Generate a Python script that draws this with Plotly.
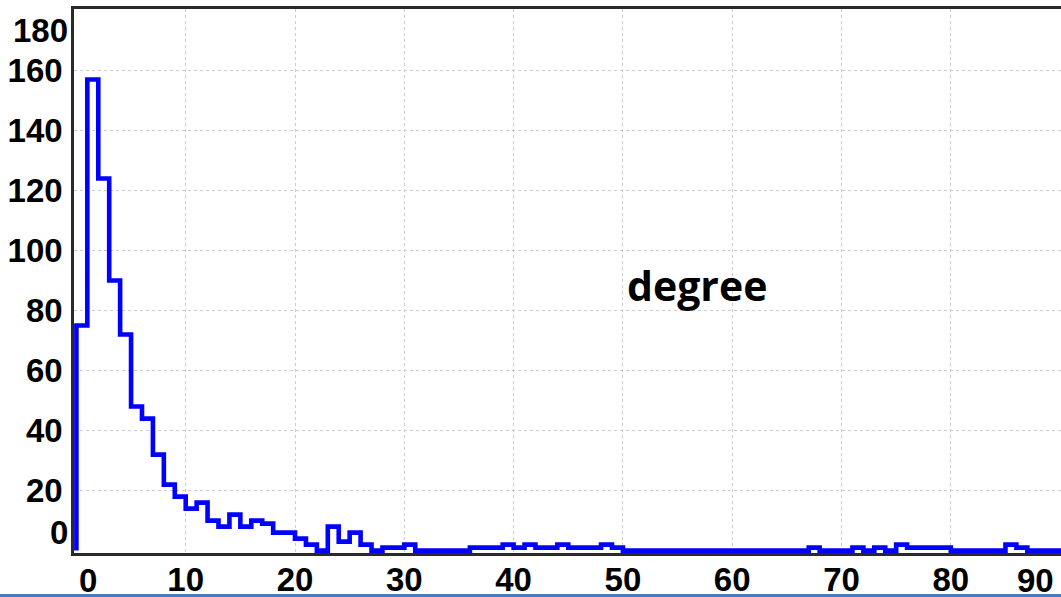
import plotly.graph_objects as go

# ---- data ----
bin_edges_left = list(range(0, 91))          # histogram bins of width 1 (degree)
counts = [
    75, 157, 124, 90, 72, 48, 44, 32, 22, 18,
    14, 16, 10, 8, 12, 8, 10, 9, 6, 6,
    4, 2, 0, 8, 3, 6, 2, 0, 1, 1,
    2, 0, 0, 0, 0, 0, 1, 1, 1, 2,
    1, 2, 1, 1, 2, 1, 1, 1, 2, 1,
    0, 0, 0, 0, 0, 0, 0, 0, 0, 0,
    0, 0, 0, 0, 0, 0, 0, 1, 0, 0,
    0, 1, 0, 1, 0, 2, 1, 1, 1, 1,
    0, 0, 0, 0, 0, 2, 1, 0, 0, 0,
    0,
]
x_ticks = [10, 20, 30, 40, 50, 60, 70, 80]
y_ticks = [20, 40, 60, 80, 100, 120, 140, 160]
x_edge_labels = [(0, "0"), (90, "90")]
y_edge_labels = [(0, "0"), (180, "180")]
label_text = "degree"

# ---- geometry ----
W, H = 1061, 597
ML, MR, MT, MB = 74, 0, 9, 44
X_RANGE = [-0.22, 90.08]
Y_RANGE = [-0.8, 180.5]

xs = [0] + bin_edges_left + [bin_edges_left[-1] + 1]
ys = [0] + counts + [counts[-1]]

fig = go.Figure()
fig.add_trace(go.Scatter(
    x=xs, y=ys, mode="lines", line=dict(color="#0000ff", width=4.6, shape="hv"),
    hoverinfo="skip", showlegend=False,
))

tick_font = dict(family="Liberation Sans", size=33, color="black", weight="bold")

fig.update_layout(
    width=W, height=H,
    margin=dict(l=ML, r=MR, t=MT, b=MB, pad=0, autoexpand=False),
    paper_bgcolor="white", plot_bgcolor="white",
    showlegend=False,
    xaxis=dict(
        range=X_RANGE, tickmode="array", tickvals=x_ticks,
        ticktext=[str(v) for v in x_ticks], ticks="", automargin=False,
        showgrid=True, gridcolor="#cccccc", griddash="dot", gridwidth=1,
        zeroline=False, showline=True, linecolor="#2a2a2a", linewidth=2.5,
        mirror=True, tickfont=tick_font, ticklabelstandoff=-4,
    ),
    yaxis=dict(
        range=Y_RANGE, tickmode="array", tickvals=y_ticks,
        ticktext=[str(v) for v in y_ticks], ticks="", automargin=False,
        showgrid=True, gridcolor="#cccccc", griddash="dot", gridwidth=1,
        zeroline=False, showline=True, linecolor="#2a2a2a", linewidth=2.5,
        tickfont=tick_font, ticklabelstandoff=2,
    ),
)

annotations = []
for val, txt in x_edge_labels:
    shift = 12 if val == 0 else -25
    annotations.append(dict(
        x=val, xref="x", y=0, yref="paper", text=txt, showarrow=False,
        xanchor="center", yanchor="middle", xshift=shift, yshift=-27,
        height=30, borderpad=0, valign="middle",
        font=tick_font,
    ))
for val, txt in y_edge_labels:
    shift = 18 if val == 0 else -20
    annotations.append(dict(
        x=0, xref="paper", y=val, yref="y", text=txt, showarrow=False,
        xanchor="right", yanchor="middle", xshift=-4, yshift=shift,
        font=tick_font,
    ))
annotations.append(dict(
    x=56.8, xref="x", y=88.5, yref="y", text=label_text, showarrow=False,
    xanchor="center", yanchor="middle",
    font=dict(family="Open Sans", size=41, color="black", weight="bold"),
))
fig.update_layout(annotations=annotations)

plot_h = H - MT - MB
fig.add_shape(type="line", xref="paper", yref="paper",
              x0=-ML / (W - ML - MR), x1=1.0, y0=-(595.5 - (H - MB)) / plot_h,
              y1=-(595.5 - (H - MB)) / plot_h,
              line=dict(color="#4a7ebb", width=3))

fig.write_html("out.html")
